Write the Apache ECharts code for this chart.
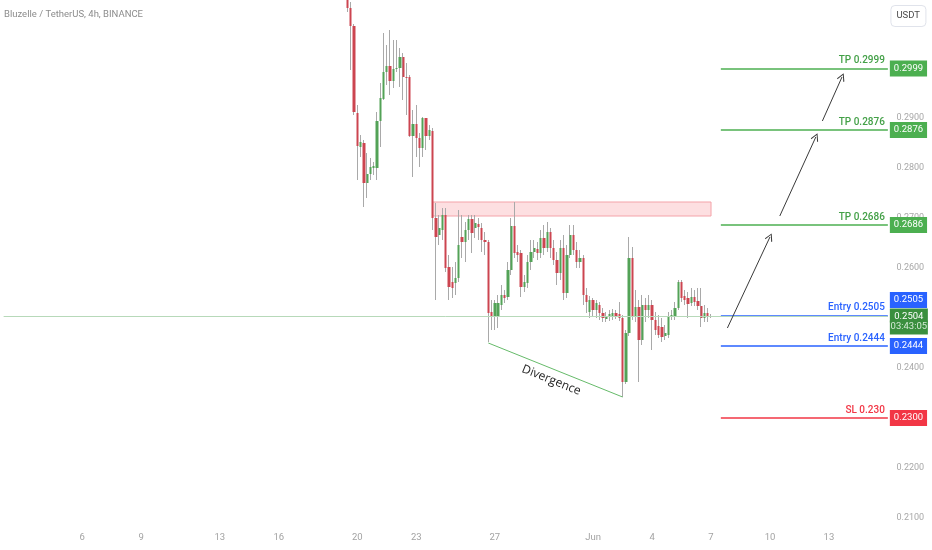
<!DOCTYPE html>
<html>
<head>
<meta charset="utf-8">
<script src="https://cdn.jsdelivr.net/npm/echarts@6/dist/echarts.min.js"></script>
<style>
  html, body { margin: 0; padding: 0; background: #fff; }
  #chart { width: 932px; height: 550px; }
</style>
</head>
<body>
<div id="chart"></div>
<script>
// 4h candles, first one starts at firstCandle
const firstCandle = '2021-05-19 12:00';
const opens = [
  0.3166, 0.3120, 0.3084, 0.2910, 0.2842, 0.2850, 0.2770, 0.2788, 0.2800, 0.2800,
  0.2894, 0.2938, 0.2992, 0.3004, 0.2974, 0.2998, 0.3000, 0.3022, 0.2982, 0.2982,
  0.2864, 0.2888, 0.2860, 0.2840, 0.2900, 0.2864, 0.2874, 0.2700, 0.2666, 0.2676,
  0.2706, 0.2602, 0.2572, 0.2570, 0.2580, 0.2662, 0.2652, 0.2676, 0.2698, 0.2680,
  0.2688, 0.2680, 0.2656, 0.2652, 0.2512, 0.2502, 0.2504, 0.2526, 0.2546, 0.2542,
  0.2596, 0.2684, 0.2632, 0.2630, 0.2562, 0.2570, 0.2612, 0.2632, 0.2638, 0.2630,
  0.2660, 0.2640, 0.2672, 0.2640, 0.2616, 0.2590, 0.2640, 0.2550, 0.2626, 0.2666,
  0.2636, 0.2612, 0.2620, 0.2546, 0.2512, 0.2536, 0.2516, 0.2526, 0.2510, 0.2498,
  0.2502, 0.2504, 0.2510, 0.2508, 0.2500, 0.2372, 0.2470, 0.2620, 0.2502, 0.2522,
  0.2456, 0.2526, 0.2516, 0.2526, 0.2496, 0.2484, 0.2482, 0.2464, 0.2466, 0.2502,
  0.2502, 0.2520, 0.2572, 0.2544, 0.2540, 0.2530, 0.2542, 0.2534, 0.2524, 0.2500,
  0.2510, 0.2502
];
const closes = [
  0.3120, 0.3084, 0.2912, 0.2844, 0.2852, 0.2770, 0.2788, 0.2802, 0.2804, 0.2894,
  0.2940, 0.2992, 0.3004, 0.2974, 0.2998, 0.3000, 0.3022, 0.2982, 0.2980, 0.2864,
  0.2888, 0.2860, 0.2840, 0.2900, 0.2864, 0.2876, 0.2700, 0.2662, 0.2680, 0.2706,
  0.2600, 0.2562, 0.2560, 0.2580, 0.2646, 0.2652, 0.2676, 0.2698, 0.2670, 0.2690,
  0.2682, 0.2656, 0.2652, 0.2510, 0.2502, 0.2530, 0.2530, 0.2546, 0.2540, 0.2596,
  0.2684, 0.2630, 0.2626, 0.2562, 0.2572, 0.2612, 0.2632, 0.2640, 0.2630, 0.2660,
  0.2640, 0.2672, 0.2640, 0.2616, 0.2590, 0.2640, 0.2550, 0.2626, 0.2666, 0.2636,
  0.2612, 0.2620, 0.2546, 0.2532, 0.2536, 0.2516, 0.2530, 0.2510, 0.2500, 0.2504,
  0.2508, 0.2510, 0.2504, 0.2500, 0.2372, 0.2470, 0.2620, 0.2502, 0.2522, 0.2456,
  0.2526, 0.2516, 0.2526, 0.2496, 0.2476, 0.2466, 0.2462, 0.2470, 0.2502, 0.2506,
  0.2520, 0.2572, 0.2540, 0.2536, 0.2528, 0.2542, 0.2532, 0.2524, 0.2500, 0.2510,
  0.2502, 0.2504
];
const lows = [
  0.3112, 0.2996, 0.2906, 0.2776, 0.2822, 0.2722, 0.2740, 0.2776, 0.2786, 0.2776,
  0.2842, 0.2936, 0.2966, 0.2946, 0.2960, 0.2992, 0.2962, 0.2936, 0.2906, 0.2862,
  0.2782, 0.2822, 0.2802, 0.2822, 0.2836, 0.2856, 0.2676, 0.2536, 0.2646, 0.2656,
  0.2592, 0.2536, 0.2540, 0.2546, 0.2572, 0.2620, 0.2612, 0.2656, 0.2630, 0.2660,
  0.2656, 0.2632, 0.2626, 0.2452, 0.2476, 0.2476, 0.2480, 0.2516, 0.2530, 0.2536,
  0.2586, 0.2620, 0.2612, 0.2542, 0.2552, 0.2560, 0.2596, 0.2620, 0.2616, 0.2620,
  0.2626, 0.2632, 0.2620, 0.2606, 0.2566, 0.2576, 0.2536, 0.2540, 0.2620, 0.2626,
  0.2600, 0.2600, 0.2526, 0.2510, 0.2500, 0.2504, 0.2500, 0.2496, 0.2492, 0.2492,
  0.2494, 0.2496, 0.2498, 0.2494, 0.2342, 0.2368, 0.2464, 0.2496, 0.2492, 0.2372,
  0.2446, 0.2492, 0.2500, 0.2436, 0.2466, 0.2460, 0.2452, 0.2456, 0.2460, 0.2496,
  0.2496, 0.2516, 0.2532, 0.2526, 0.2500, 0.2524, 0.2524, 0.2516, 0.2482, 0.2492,
  0.2492, 0.2500
];
const highs = [
  0.3176, 0.3132, 0.3088, 0.2926, 0.2866, 0.2856, 0.2830, 0.2820, 0.2812, 0.2912,
  0.2970, 0.3070, 0.3046, 0.3076, 0.3056, 0.3056, 0.3040, 0.3030, 0.3010, 0.2986,
  0.2916, 0.2926, 0.2870, 0.2902, 0.2900, 0.2886, 0.2880, 0.2730, 0.2706, 0.2720,
  0.2720, 0.2626, 0.2602, 0.2612, 0.2716, 0.2706, 0.2692, 0.2706, 0.2706, 0.2706,
  0.2700, 0.2690, 0.2672, 0.2656, 0.2536, 0.2536, 0.2546, 0.2566, 0.2556, 0.2612,
  0.2700, 0.2732, 0.2646, 0.2636, 0.2586, 0.2626, 0.2656, 0.2656, 0.2652, 0.2676,
  0.2686, 0.2692, 0.2680, 0.2656, 0.2632, 0.2656, 0.2666, 0.2646, 0.2686, 0.2686,
  0.2652, 0.2636, 0.2626, 0.2560, 0.2544, 0.2540, 0.2536, 0.2532, 0.2520, 0.2512,
  0.2516, 0.2518, 0.2516, 0.2532, 0.2506, 0.2476, 0.2662, 0.2642, 0.2556, 0.2536,
  0.2546, 0.2540, 0.2546, 0.2536, 0.2512, 0.2506, 0.2500, 0.2486, 0.2512, 0.2516,
  0.2532, 0.2576, 0.2576, 0.2556, 0.2552, 0.2560, 0.2556, 0.2560, 0.2560, 0.2526,
  0.2520, 0.2508
];

// axis ticks
const xTickDays = ['2021-05-06', '2021-05-09', '2021-05-13', '2021-05-16', '2021-05-20', '2021-05-23',
  '2021-05-27', '2021-06-01', '2021-06-04', '2021-06-07', '2021-06-10', '2021-06-13'];
const xTickLabels = ['6', '9', '13', '16', '20', '23', '27', 'Jun', '4', '7', '10', '13'];
const yTicks = [0.21, 0.22, 0.23, 0.24, 0.25, 0.26, 0.27, 0.28, 0.29, 0.30];

// trade levels
const levelNames = ['TP 0.2999', 'TP 0.2876', 'TP 0.2686', 'Entry 0.2505', 'Entry 0.2444', 'SL 0.230'];
const levelValues = [0.2999, 0.2876, 0.2686, 0.2505, 0.2444, 0.2300];
const levelKinds = ['tp', 'tp', 'tp', 'entry', 'entry', 'sl'];
const lastPrice = 0.2504;
const countdown = '03:43:05';

// resistance zone and divergence
const zoneTop = 0.2732;
const zoneBottom = 0.2704;
const zoneFrom = '2021-05-23 20:00';
const zoneTo = '2021-06-07 00:00';
const divergenceFrom = ['2021-05-26 16:00', 0.2450];
const divergenceTo = ['2021-06-02 12:00', 0.2342];
const arrows = [
  [['2021-06-07 20:00', 0.2480], ['2021-06-10 00:00', 0.2662]],
  [['2021-06-10 12:00', 0.2704], ['2021-06-12 08:00', 0.2862]],
  [['2021-06-12 16:00', 0.2894], ['2021-06-13 16:00', 0.2982]]
];
const levelFrom = '2021-06-07 12:00';
const axisEnd = '2021-06-16 00:00';

(() => {
  const chart = echarts.init(document.getElementById('chart'));

  const upColor = '#53a257';
  const downColor = '#cc4550';
  const wickColor = '#a9a9a9';
  const labelFont = 'Roboto, sans-serif';
  const kindColors = {tp: '#4caf50', entry: '#2962ff', sl: '#f23645'};
  const kindText = {tp: '#43a047', entry: '#2962ff', sl: '#f23645'};

  const pad = n => String(n).padStart(2, '0');
  const categories = [];
  const start = Date.UTC(2021, 4, 2);
  for (let t = start; ; t += 4 * 3600 * 1000) {
    const d = new Date(t);
    const name = d.getUTCFullYear() + '-' + pad(d.getUTCMonth() + 1) + '-' + pad(d.getUTCDate()) +
      ' ' + pad(d.getUTCHours()) + ':00';
    categories.push(name);
    if (name === axisEnd) break;
  }
  const firstIdx = categories.indexOf(firstCandle);
  const firstName = categories[0];

  const wickData = [];
  const bodyData = [];
  for (let i = 0; i < firstIdx; i++) {
    wickData.push('-');
    bodyData.push('-');
  }
  opens.forEach((o, k) => {
    const c = closes[k];
    wickData.push([o, c, lows[k], highs[k]]);
    bodyData.push([o, c, Math.min(o, c), Math.max(o, c)]);
  });

  const tickOf = name => name.slice(11) === '00:00' ? xTickDays.indexOf(name.slice(0, 10)) : -1;

  const hidden = {color: 'rgba(0,0,0,0)', width: 0};
  const lines = [];
  levelValues.forEach((v, k) => {
    const col = kindColors[levelKinds[k]];
    lines.push([
      {
        coord: [levelFrom, v],
        lineStyle: {color: col, width: 1.5, type: 'solid'},
        label: {
          show: true, position: 'insideEndTop', formatter: levelNames[k], distance: [3, 3],
          color: kindText[levelKinds[k]], fontSize: 10, fontWeight: 500, fontFamily: labelFont
        }
      },
      {coord: [axisEnd, v]}
    ]);
    // price box on the axis; the 0.2505 box is pushed up like on the original
    const text = v.toFixed(4);
    const pushed = levelNames[k] === 'Entry 0.2505';
    lines.push([
      {
        coord: [levelFrom, v],
        lineStyle: hidden,
        label: {
          show: true, position: 'end', distance: 2,
          formatter: pushed ? '{b|' + text + '}\n{g| }' : '{b|' + text + '}',
          rich: {
            b: {
              backgroundColor: col, color: '#fff', fontSize: 9.5, fontFamily: labelFont,
              padding: [3, 4, 3, 4], lineHeight: 11
            },
            g: {height: 31, lineHeight: 31, fontSize: 1}
          }
        }
      },
      {coord: [axisEnd, v]}
    ]);
  });

  lines.push([
    {
      coord: [firstName, lastPrice],
      lineStyle: {color: '#b7d9b9', width: 1, type: 'solid'},
      label: {
        show: true, position: 'end', distance: 2,
        formatter: '{g| }\n{p|' + lastPrice.toFixed(4) + '}\n{t|' + countdown + '}',
        rich: {
          g: {height: 11, lineHeight: 11, fontSize: 1},
          p: {
            backgroundColor: '#3a8f3e', color: '#fff', fontSize: 9.5, fontFamily: labelFont,
            width: 32, align: 'center', padding: [3, 3, 1, 3], lineHeight: 12
          },
          t: {
            backgroundColor: '#3a8f3e', color: '#d4ead5', fontSize: 9.5, fontFamily: labelFont,
            width: 32, align: 'center', padding: [1, 3, 3, 3], lineHeight: 12
          }
        }
      }
    },
    {coord: [axisEnd, lastPrice]}
  ]);

  lines.push([
    {
      coord: divergenceFrom,
      lineStyle: {color: '#66bb6a', width: 1, type: 'solid'},
      label: {
        show: true, position: 'insideMiddleBottom', formatter: 'Divergence', distance: 5,
        color: '#1f1f1f', fontSize: 12, fontFamily: "'Open Sans', sans-serif"
      }
    },
    {coord: divergenceTo}
  ]);

  const chevron = 'path://M5,0 L10,9 L9,10 L5,2.4 L1,10 L0,9 Z';
  arrows.forEach(a => {
    lines.push([
      {coord: a[0], symbol: 'none', lineStyle: {color: '#3a3a3a', width: 1, type: 'solid'}, label: {show: false}},
      {coord: a[1], symbol: chevron, symbolSize: 8}
    ]);
  });

  const option = {
    backgroundColor: '#ffffff',
    animation: false,
    title: [
      {
        text: 'Bluzelle / TetherUS, 4h, BINANCE',
        left: 4, top: 10,
        padding: 0,
        textStyle: {fontSize: 9.5, fontWeight: 'normal', color: '#8c8c8c', fontFamily: labelFont}
      },
      {
        text: 'USDT',
        right: 6, top: 5,
        padding: [6, 6, 6, 6],
        borderColor: '#e0e3eb', borderWidth: 1, borderRadius: 4,
        textStyle: {fontSize: 9.5, fontWeight: 'normal', color: '#4a4a4a', fontFamily: labelFont}
      }
    ],
    grid: {left: 2, top: 0, width: 887.5, height: 525},
    xAxis: {
      type: 'category',
      data: categories,
      boundaryGap: true,
      axisLine: {show: false},
      axisTick: {show: false},
      splitLine: {show: false},
      axisLabel: {
        interval: (idx, name) => tickOf(name) >= 0,
        formatter: name => xTickLabels[tickOf(name)],
        color: '#a3a3a3', fontSize: 9.5, fontFamily: labelFont, margin: 8
      }
    },
    yAxis: {
      type: 'value',
      position: 'right',
      min: 0.2086,
      max: 0.3136,
      scale: true,
      axisLine: {show: false},
      axisTick: {show: false},
      splitLine: {show: false},
      axisLabel: {
        customValues: yTicks,
        formatter: v => v.toFixed(4),
        color: '#a8a8a8', fontSize: 9, fontFamily: labelFont, margin: 7
      }
    },
    series: [
      {
        type: 'candlestick',
        name: 'wick',
        data: wickData,
        barWidth: 1,
        clip: true,
        silent: true,
        itemStyle: {
          color: wickColor, color0: wickColor,
          borderColor: wickColor, borderColor0: wickColor, borderWidth: 1
        }
      },
      {
        type: 'candlestick',
        name: 'body',
        data: bodyData,
        barWidth: 2.8,
        clip: true,
        silent: true,
        itemStyle: {
          color: upColor, color0: downColor,
          borderColor: upColor, borderColor0: downColor, borderWidth: 0
        },
        markArea: {
          silent: true,
          itemStyle: {color: 'rgba(242, 54, 69, 0.16)', borderColor: '#f4a3a9', borderWidth: 1},
          data: [[{coord: [zoneFrom, zoneTop]}, {coord: [zoneTo, zoneBottom]}]]
        },
        markLine: {
          silent: true,
          symbol: 'none',
          animation: false,
          data: lines
        }
      }
    ]
  };

  chart.setOption(option);
})();
</script>
</body>
</html>
